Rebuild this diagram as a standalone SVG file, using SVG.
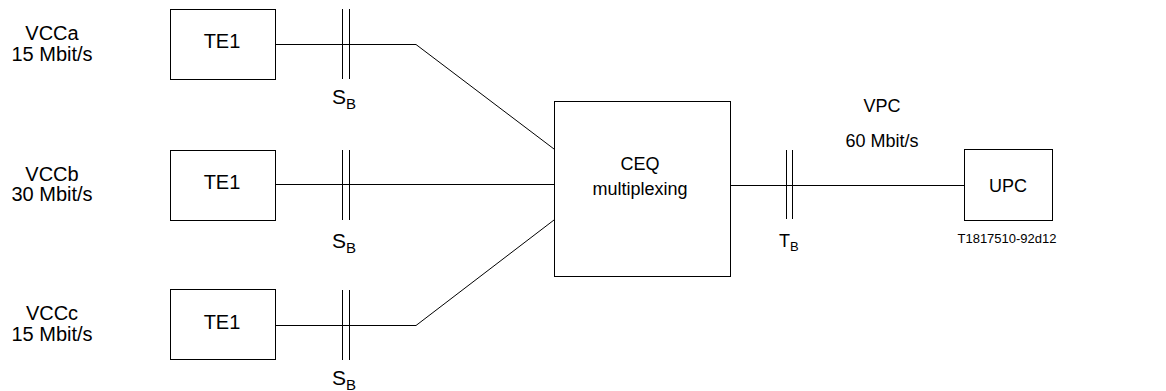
<svg xmlns="http://www.w3.org/2000/svg" width="1166" height="391" viewBox="0 0 1166 391">
<style>
.box{fill:#fff;stroke:#000;stroke-width:1}
.ln{fill:none;stroke:#000;stroke-width:1}
text{font-family:"Liberation Sans",Arial,sans-serif;fill:#000}
.t{font-size:18px;text-anchor:middle}
.l{font-size:20px;text-anchor:middle}
.sb{font-size:21px}
.s{font-size:15px}
.tb{font-size:18px}
.s2{font-size:13px}
.ref{font-size:13px;text-anchor:middle}
</style>
<rect width="1166" height="391" fill="#fff"/>
<g id="connectors">
<path class="ln" d="M275,44.5H416L554,149"/>
<path class="ln" d="M275,184.5H554"/>
<path class="ln" d="M275,325.5H416L554,220"/>
<path class="ln" d="M730,185.5H964"/>
</g>
<g id="ref-points">
<path class="ln" d="M342.5,9V79M349.5,9V79"/>
<path class="ln" d="M342.5,150V220M349.5,150V220"/>
<path class="ln" d="M342.5,290V360M349.5,290V360"/>
<path class="ln" d="M786.5,150V219M792.5,150V219"/>
<text class="sb" x="332" y="104">S<tspan class="s" dy="5">B</tspan></text>
<text class="sb" x="332" y="248">S<tspan class="s" dy="5">B</tspan></text>
<text class="sb" x="332" y="385">S<tspan class="s" dy="5">B</tspan></text>
<text class="tb" x="779" y="247">T<tspan class="s2" dy="4">B</tspan></text>
</g>
<g id="labels">
<text class="l" x="52" y="40">VCCa</text>
<text class="l" x="52" y="61">15 Mbit/s</text>
<text class="l" x="52" y="181">VCCb</text>
<text class="l" x="52" y="201">30 Mbit/s</text>
<text class="l" x="52" y="320">VCCc</text>
<text class="l" x="52" y="341">15 Mbit/s</text>
<text class="t" x="882" y="112">VPC</text>
<text class="t" x="882" y="147">60 Mbit/s</text>
<text class="ref" x="1007" y="243">T1817510-92d12</text>
</g>
<g id="te1a">
<rect class="box" x="170.5" y="9.5" width="105" height="70"/>
<text class="l" x="222" y="48">TE1</text>
</g>
<g id="te1b">
<rect class="box" x="170.5" y="150.5" width="105" height="70"/>
<text class="l" x="222" y="189">TE1</text>
</g>
<g id="te1c">
<rect class="box" x="170.5" y="289.5" width="105" height="70"/>
<text class="l" x="222" y="329">TE1</text>
</g>
<g id="ceq">
<rect class="box" x="554.5" y="101.5" width="176" height="175"/>
<text class="t" x="640" y="170">CEQ</text>
<text class="t" x="640" y="195">multiplexing</text>
</g>
<g id="upc">
<rect class="box" x="964.5" y="149.5" width="88" height="71"/>
<text class="t" x="1008" y="192">UPC</text>
</g>
</svg>
